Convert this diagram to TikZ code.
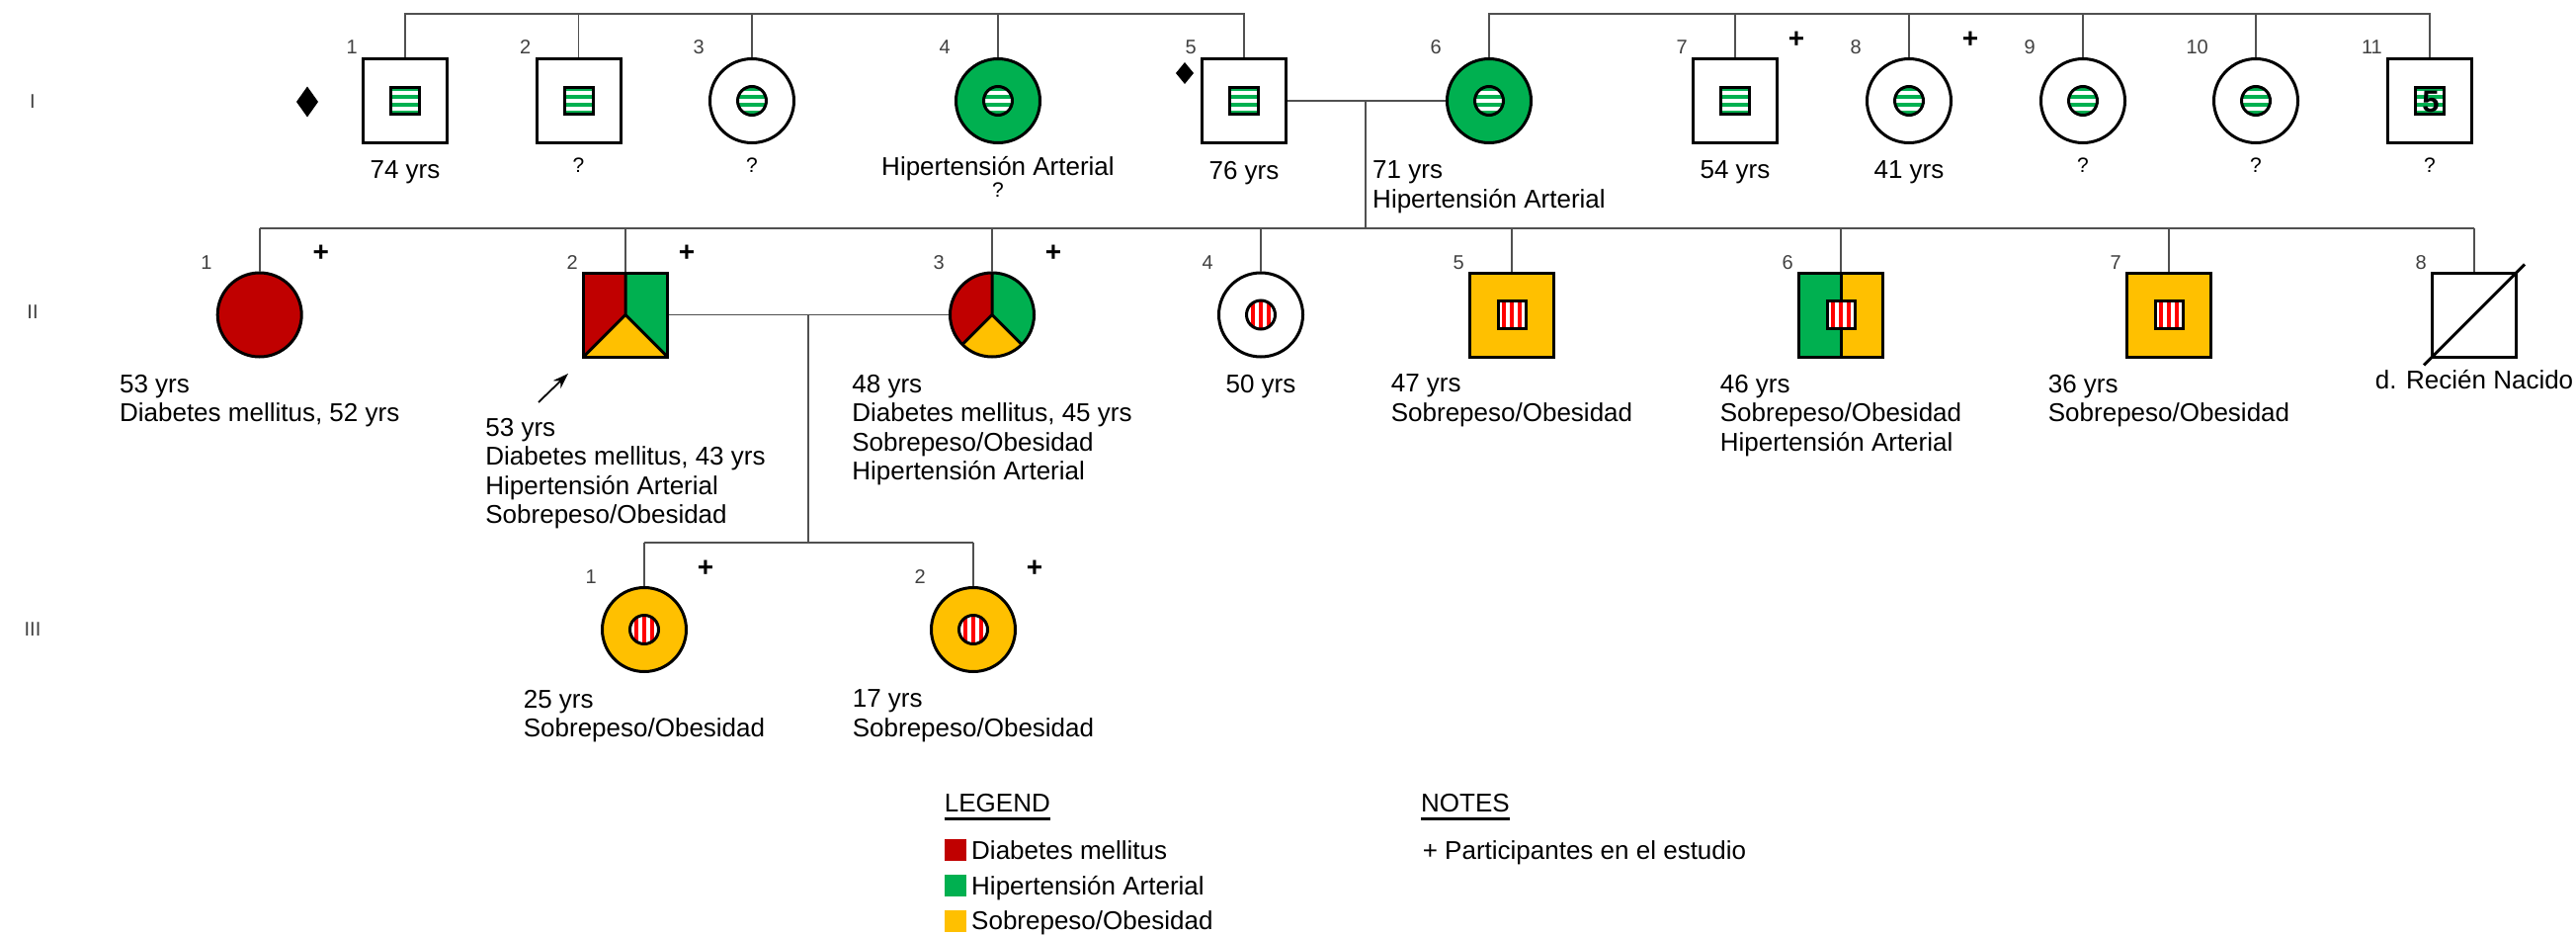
\documentclass[tikz,border=0pt]{standalone}
\usepackage{fontspec}
\setmainfont{Liberation Sans}
\usetikzlibrary{calc,arrows.meta}

\definecolor{dmred}{HTML}{C00000}
\definecolor{hagreen}{HTML}{00B050}
\definecolor{soyellow}{HTML}{FFC000}
\definecolor{stripered}{HTML}{FF0000}
\definecolor{linegray}{HTML}{505050}
\definecolor{numgray}{HTML}{404040}

\tikzset{
  every node/.style={font=\fontsize{26}{29.5}\selectfont, inner sep=0pt},
  male/.style={draw=black, line width=3pt, rectangle, minimum size=85pt},
  female/.style={draw=black, line width=3pt, circle, minimum size=85pt},
  conn/.style={draw=linegray, line width=1.8pt},
  numlab/.style={font=\fontsize{20}{22}\selectfont, text=numgray, anchor=south east},
  plus/.style={font=\bfseries\fontsize{28}{30}\selectfont},
  info/.style={align=left, anchor=north},
  qmark/.style={font=\fontsize{21}{24}\selectfont, anchor=north},
  genlab/.style={font=\fontsize{20}{22}\selectfont, text=numgray},
  swatch/.style={minimum size=22pt, inner sep=0pt},
  legtext/.style={anchor=base west},
  % carrier markers: small striped box / disc drawn at a person's centre
  gbox/.pic={
    \fill[hagreen] (-14.5,-13.5) rectangle (14.5,13.5);
    \foreach \k in {1,3,5}
      \fill[white] (-14.5,-13.5+\k*27/7) rectangle (14.5,-13.5+\k*27/7+27/7);
    \draw[line width=3pt] (-14.5,-13.5) rectangle (14.5,13.5);
  },
  gdisc/.pic={
    \begin{scope}
      \clip (0,0) circle (14.5pt);
      \fill[hagreen] (-15,-15) rectangle (15,15);
      \foreach \k in {1,3,5}
        \fill[white] (-15,-14.5+\k*29/7) rectangle (15,-14.5+\k*29/7+29/7);
    \end{scope}
    \draw[line width=3pt] (0,0) circle (14.5pt);
  },
  rbox/.pic={
    \fill[white] (-14,-14) rectangle (14,14);
    \foreach \k in {1,3,5}
      \fill[stripered] (-14+\k*28/7,-14) rectangle (-14+\k*28/7+28/7,14);
    \draw[line width=3pt] (-14,-14) rectangle (14,14);
  },
  rdisc/.pic={
    \begin{scope}
      \clip (0,0) circle (14.5pt);
      \fill[white] (-15,-15) rectangle (15,15);
      \foreach \k in {1,3,5}
        \fill[stripered] (-14.5+\k*29/7,-15) rectangle (-14.5+\k*29/7+29/7,15);
    \end{scope}
    \draw[line width=3pt] (0,0) circle (14.5pt);
  },
}

\begin{document}
\begin{tikzpicture}[x=1pt, y=-1pt]
\useasboundingbox (0,0) rectangle (2607,945);
\fill[white] (0,0) rectangle (2607,945);

% generation numerals
\node[genlab] (g1) at (33,103) {I};
\node[genlab] (g2) at (33,316) {II};
\node[genlab] (g3) at (33,637) {III};

% ---------------- generation I ----------------
\node[male]   (i1)  at (410,102)  {};
\node[male]   (i2)  at (585.5,102) {};
\node[female] (i3)  at (761,102)  {};
\node[female, fill=hagreen] (i4) at (1010,102) {};
\node[male]   (i5)  at (1259,102) {};
\node[female, fill=hagreen] (i6) at (1507,102) {};
\node[male]   (i7)  at (1756,102) {};
\node[female] (i8)  at (1932,102) {};
\node[female] (i9)  at (2108,102) {};
\node[female] (i10) at (2283,102) {};
\node[male]   (i11) at (2459,102) {};

\pic at (i1) {gbox};
\pic at (i2) {gbox};
\pic at (i3) {gdisc};
\pic at (i4) {gdisc};
\pic at (i5) {gbox};
\pic at (i6) {gdisc};
\pic at (i7) {gbox};
\pic at (i8) {gdisc};
\pic at (i9) {gdisc};
\pic at (i10) {gdisc};
\pic at (i11) {gbox};
\node[font=\bfseries\fontsize{31}{31}\selectfont] (i11n) at (2460,103) {5};

% informant diamonds
\coordinate (dm1) at (311,103);
\coordinate (dm5) at (1199,74);
\fill[black] (dm1) +(0,-15.5) -- +(11,0) -- +(0,15.5) -- +(-11,0) -- cycle;
\fill[black] (dm5) +(0,-11) -- +(9,0) -- +(0,11) -- +(-9,0) -- cycle;

% individual numbers
\foreach \n/\t in {i1/1,i2/2,i3/3,i4/4,i5/5,i6/6,i7/7,i8/8,i9/9,i10/10,i11/11}
  \node[numlab] (n-\n) at ($(\n.center)+(-48,-47)$) {\t};

% study participants
\node[plus] (p-i7) at ($(i7.center)+(62,-62)$) {+};
\node[plus] (p-i8) at ($(i8.center)+(62,-62)$) {+};

% sibships and marriage of generation I
\coordinate (topL) at (0,14);
\draw[conn] (i1.north) -- (i1.north |- topL) -- (i5.north |- topL) -- (i5.north);
\foreach \n in {i2,i3,i4} \draw[conn] (\n.north) -- (\n.north |- topL);
\draw[conn] (i6.north) -- (i6.north |- topL) -- (i11.north |- topL) -- (i11.north);
\foreach \n in {i7,i8,i9,i10} \draw[conn] (\n.north) -- (\n.north |- topL);
\draw[conn] (i5.east) -- (i6.west);
\coordinate (mI) at (1382,102);
\coordinate (sibII) at (1382,231);
\draw[conn] (mI) -- (sibII);

% labels generation I
\node[info] (t-i1) at (410,162.7) {74 yrs};
\node[qmark] (t-i2) at (585.5,159.5) {?};
\node[qmark] (t-i3) at (761,159.5) {?};
\node[info] (t-i4) at (1010,158) {Hipertensión Arterial};
\node[qmark] (q-i4) at (1010,185) {?};
\node[info] (t-i5) at (1259,162.7) {76 yrs};
\node[info] (t-i6) at (1507,162.7) {71 yrs\\Hipertensión Arterial};
\node[info] (t-i7) at (1756,162.7) {54 yrs};
\node[info] (t-i8) at (1932,162.7) {41 yrs};
\node[qmark] (t-i9) at (2108,159.5) {?};
\node[qmark] (t-i10) at (2283,159.5) {?};
\node[qmark] (t-i11) at (2459,159.5) {?};

% ---------------- generation II ----------------
\node[female, fill=dmred] (ii1) at (262.7,318.5) {};
\node[male, path picture={
    \fill[dmred] (path picture bounding box.north west) rectangle (path picture bounding box.south);
    \fill[hagreen] (path picture bounding box.north) rectangle (path picture bounding box.south east);
    \fill[soyellow] (path picture bounding box.south west) -- (path picture bounding box.center) -- (path picture bounding box.south east) -- cycle;
    \draw[line width=3pt] (path picture bounding box.north) -- (path picture bounding box.center)
      (path picture bounding box.south west) -- (path picture bounding box.center) -- (path picture bounding box.south east);
  }] (ii2) at (633,318.5) {};
\node[female, path picture={
    \fill[hagreen] (path picture bounding box.south west) rectangle (path picture bounding box.north east);
    \fill[dmred] (path picture bounding box.center) -- (path picture bounding box.north) -- (path picture bounding box.north west) -- (path picture bounding box.south west) -- cycle;
    \fill[soyellow] (path picture bounding box.center) -- (path picture bounding box.south west) -- (path picture bounding box.south east) -- cycle;
    \draw[line width=3pt] (path picture bounding box.north) -- (path picture bounding box.center)
      (path picture bounding box.south west) -- (path picture bounding box.center) -- (path picture bounding box.south east);
  }] (ii3) at (1004,318.5) {};
\node[female] (ii4) at (1276,318.5) {};
\node[male, fill=soyellow] (ii5) at (1530,318.5) {};
\node[male, path picture={
    \fill[hagreen] (path picture bounding box.north west) rectangle (path picture bounding box.south);
    \fill[soyellow] (path picture bounding box.north) rectangle (path picture bounding box.south east);
    \draw[line width=3pt] (path picture bounding box.north) -- (path picture bounding box.south);
  }] (ii6) at (1863,318.5) {};
\node[male, fill=soyellow] (ii7) at (2195,318.5) {};
\node[male] (ii8) at (2504,318.5) {};

\pic at (ii4) {rdisc};
\pic at (ii5) {rbox};
\pic at (ii6) {rbox};
\pic at (ii7) {rbox};

% deceased newborn
\draw[line width=3pt] ($(ii8.south west)+(-7,7)$) -- ($(ii8.north east)+(7,-7)$);

\foreach \n/\t in {ii1/1,ii2/2,ii3/3,ii4/4,ii5/5,ii6/6,ii7/7,ii8/8}
  \node[numlab] (n-\n) at ($(\n.center)+(-48,-46)$) {\t};

\node[plus] (p-ii1) at ($(ii1.center)+(62,-62)$) {+};
\node[plus] (p-ii2) at ($(ii2.center)+(62,-62)$) {+};
\node[plus] (p-ii3) at ($(ii3.center)+(62,-62)$) {+};

% sibship of generation II
\draw[conn] (ii1.north |- sibII) -- (ii8.north |- sibII);
\foreach \n in {ii1,ii2,ii3,ii4,ii5,ii6,ii7,ii8} \draw[conn] (\n.north) -- (\n.north |- sibII);
\draw[conn] (ii2.east) -- (ii3.west);
\coordinate (mII) at (818,318.5);
\coordinate (sibIII) at (818,549);
\draw[conn] (mII) -- (sibIII);

% proband arrow
\coordinate (pb-tail) at (545,407);
\coordinate (pb-tip) at (575,378);
\draw[line width=1.8pt, -{Stealth[length=16pt,width=11pt]}] (pb-tail) -- (pb-tip);

% labels generation II
\node[info] (t-ii1) at (262.7,378.7) {53 yrs\\Diabetes mellitus, 52 yrs};
\node[info] (t-ii2) at (633,422.7) {53 yrs\\Diabetes mellitus, 43 yrs\\Hipertensión Arterial\\Sobrepeso/Obesidad};
\node[info] (t-ii3) at (1004,378.7) {48 yrs\\Diabetes mellitus, 45 yrs\\Sobrepeso/Obesidad\\Hipertensión Arterial};
\node[info] (t-ii4) at (1276,378.7) {50 yrs};
\node[info] (t-ii5) at (1530,378.7) {47 yrs\\Sobrepeso/Obesidad};
\node[info] (t-ii6) at (1863,378.7) {46 yrs\\Sobrepeso/Obesidad\\Hipertensión Arterial};
\node[info] (t-ii7) at (2195,378.7) {36 yrs\\Sobrepeso/Obesidad};
\node[info] (t-ii8) at (2504,373.7) {d. Recién Nacido};

% ---------------- generation III ----------------
\node[female, fill=soyellow] (iii1) at (652,637) {};
\node[female, fill=soyellow] (iii2) at (985,637) {};
\pic at (iii1) {rdisc};
\pic at (iii2) {rdisc};
\node[numlab] (n-iii1) at ($(iii1.center)+(-48,-46)$) {1};
\node[numlab] (n-iii2) at ($(iii2.center)+(-48,-46)$) {2};
\node[plus] (p-iii1) at ($(iii1.center)+(62,-62)$) {+};
\node[plus] (p-iii2) at ($(iii2.center)+(62,-62)$) {+};

\draw[conn] (iii1.north |- sibIII) -- (iii2.north |- sibIII);
\draw[conn] (iii1.north) -- (iii1.north |- sibIII);
\draw[conn] (iii2.north) -- (iii2.north |- sibIII);

\node[info] (t-iii1) at (652,697.7) {25 yrs\\Sobrepeso/Obesidad};
\node[info] (t-iii2) at (985,697.7) {17 yrs\\Sobrepeso/Obesidad};

% ---------------- legend and notes ----------------
\node[legtext] (leg) at (955.7,821) {LEGEND};
\draw[line width=3pt] ($(leg.base west)+(0,7)$) -- ($(leg.base east)+(0,7)$);
\node[swatch, fill=dmred]    (sw1) at (967,860) {};
\node[swatch, fill=hagreen]  (sw2) at (967,896) {};
\node[swatch, fill=soyellow] (sw3) at (967,931.5) {};
\node[legtext] (lt1) at (983,869.3) {Diabetes mellitus};
\node[legtext] (lt2) at (983,905.3) {Hipertensión Arterial};
\node[legtext] (lt3) at (983,940.8) {Sobrepeso/Obesidad};

\node[legtext] (notes) at (1438,821) {NOTES};
\draw[line width=3pt] ($(notes.base west)+(0,7)$) -- ($(notes.base east)+(0,7)$);
\node[legtext] (nt1) at (1439.6,869.3) {+ Participantes en el estudio};
\end{tikzpicture}
\end{document}
